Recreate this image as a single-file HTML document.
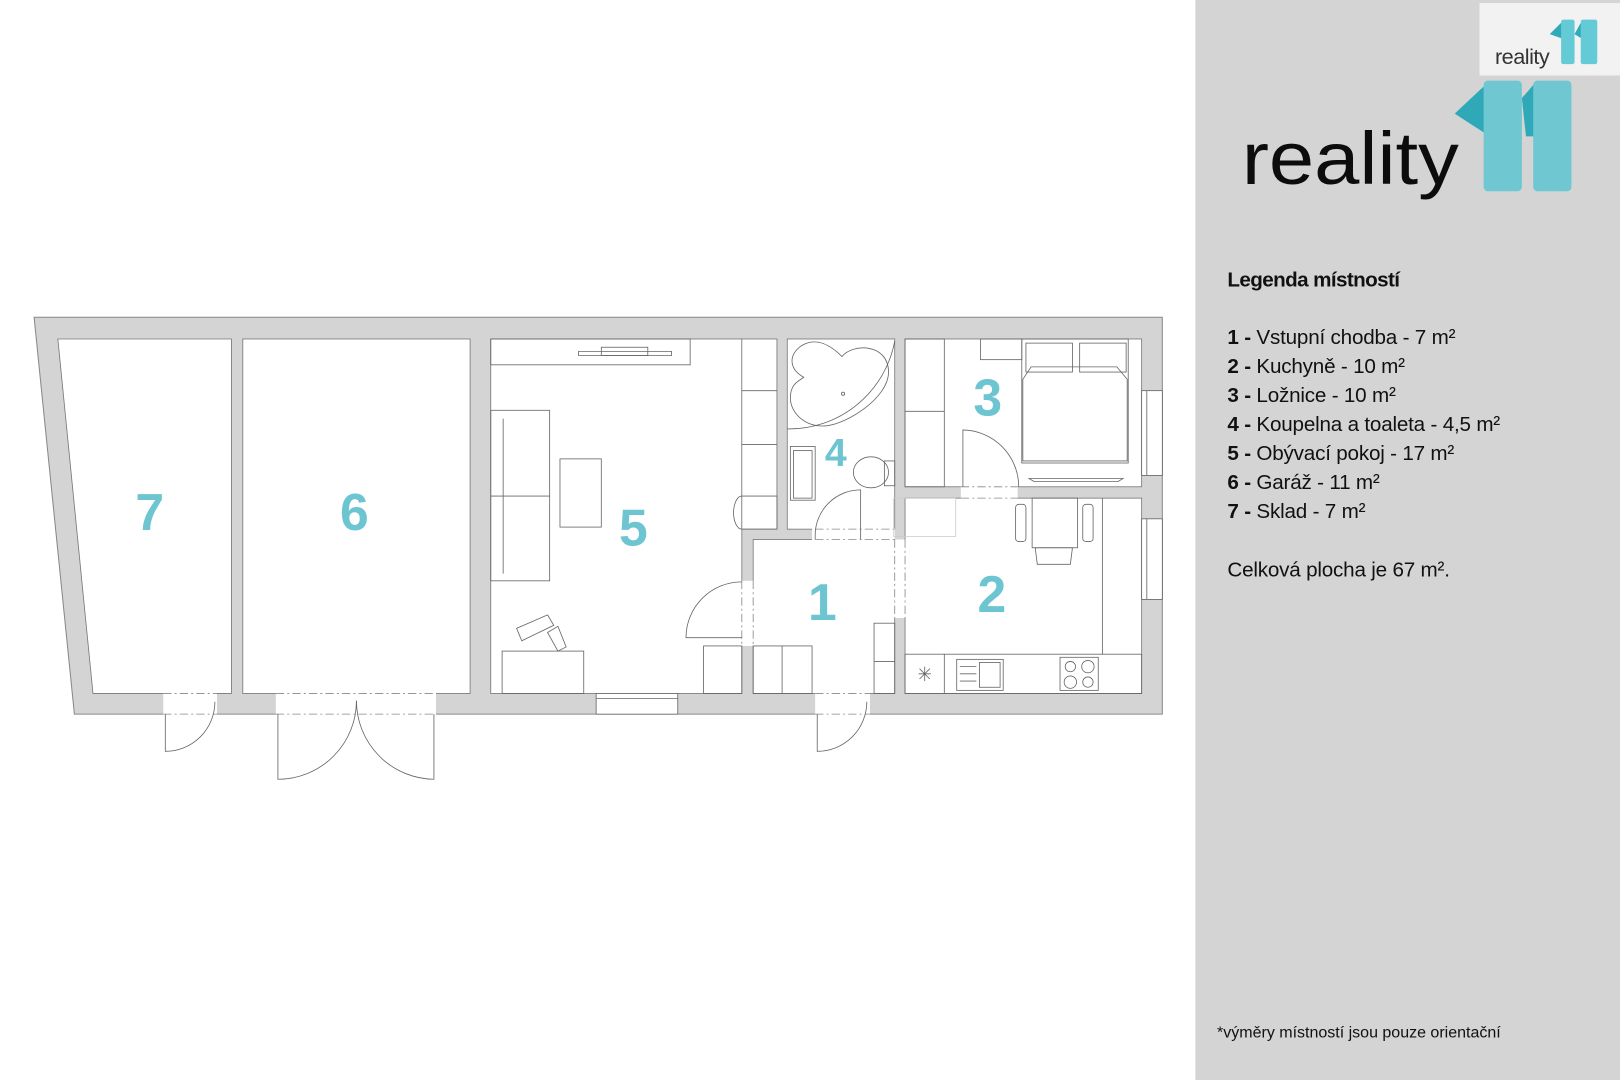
<!DOCTYPE html>
<html><head><meta charset="utf-8"><style>html,body{margin:0;padding:0;background:#fff;}svg{display:block}</style></head>
<body>
<svg width="1620" height="1080" viewBox="0 0 1568 1045" preserveAspectRatio="none" xmlns="http://www.w3.org/2000/svg" font-family="Liberation Sans, sans-serif">
<rect width="1568" height="1045" fill="#fff"/>
<!-- right panel -->
<rect x="1157" y="0" width="411" height="1045" fill="#d4d4d4"/>
<rect x="1432" y="3" width="136" height="70" fill="#f2f2f2"/>
<text x="1447" y="62" font-size="21" fill="#333" letter-spacing="-0.5">reality</text>
<path d="M1500 33 L1511 22 L1514 38 Z" fill="#30aab8"/>
<rect x="1511" y="19" width="13" height="43" rx="2" fill="#64cbd6"/>
<path d="M1524 33 L1530 22 L1532 38 Z" fill="#30aab8"/>
<rect x="1530" y="19" width="16" height="43" rx="2" fill="#64cbd6"/>
<!-- big logo -->
<text x="1202" y="178" font-size="72" fill="#0c0c0c" textLength="210" lengthAdjust="spacingAndGlyphs">reality</text>
<path d="M1408 110 L1440 80 L1448 132 L1442 132 Z" fill="#2fa9b8"/>
<rect x="1436" y="78" width="37" height="107" rx="4" fill="#6ec7d1"/>
<path d="M1473 95 L1486 80 L1486 132 L1477 132 Z" fill="#2fa9b8"/>
<rect x="1484" y="78" width="37" height="107" rx="4" fill="#6ec7d1"/>
<!-- legend -->
<g fill="#111" font-size="20" letter-spacing="-0.2">
<text x="1188" y="277" font-weight="bold" letter-spacing="-0.6">Legenda místností</text>
<text x="1188" y="333"><tspan font-weight="bold">1 - </tspan>Vstupní chodba - 7 m²</text>
<text x="1188" y="361"><tspan font-weight="bold">2 - </tspan>Kuchyně - 10 m²</text>
<text x="1188" y="389"><tspan font-weight="bold">3 - </tspan>Ložnice - 10 m²</text>
<text x="1188" y="417"><tspan font-weight="bold">4 - </tspan>Koupelna a toaleta - 4,5 m²</text>
<text x="1188" y="445"><tspan font-weight="bold">5 - </tspan>Obývací pokoj - 17 m²</text>
<text x="1188" y="473"><tspan font-weight="bold">6 - </tspan>Garáž - 11 m²</text>
<text x="1188" y="501"><tspan font-weight="bold">7 - </tspan>Sklad - 7 m²</text>
<text x="1188" y="558">Celková plocha je 67 m².</text>
<text x="1178" y="1004" font-size="15.5" letter-spacing="0">*výměry místností jsou pouze orientační</text>
</g>
<!-- walls -->
<polygon points="33,307 1125,307 1125,691 72,691" fill="#d4d4d4" stroke="#888" stroke-width="1"/>
<g fill="#fff" stroke="#777" stroke-width="0.8">
<polygon points="56,328 224,328 224,671 90,671"/>
<rect x="235" y="328" width="220" height="343"/>
<rect x="475" y="328" width="243" height="343"/>
<rect x="718" y="328" width="34" height="184"/>
<rect x="762" y="328" width="104" height="184"/>
<rect x="729" y="522" width="137" height="149"/>
<rect x="876" y="328" width="229" height="143"/>
<rect x="876" y="482" width="229" height="189"/>
</g>
<g fill="#fff" stroke="none">
<rect x="158" y="670" width="52" height="22"/>
<rect x="267" y="670" width="155" height="22"/>
<rect x="789" y="670" width="53" height="22"/>
<rect x="717" y="562" width="13" height="63"/>
<rect x="865" y="522" width="12" height="76"/>
<rect x="930" y="470" width="55" height="13"/>
<rect x="786" y="511" width="80" height="12"/>
<rect x="577" y="671" width="79" height="20"/>
<rect x="1105" y="378" width="20" height="82"/>
<rect x="1105" y="502" width="20" height="78"/>
</g>
<g fill="none" stroke="#666" stroke-width="0.8">
<rect x="577" y="671" width="79" height="20"/><line x1="577" y1="676" x2="656" y2="676"/>
<rect x="1105" y="378" width="20" height="82"/><line x1="1110" y1="378" x2="1110" y2="460"/>
<rect x="1105" y="502" width="20" height="78"/><line x1="1110" y1="502" x2="1110" y2="580"/>
<g stroke-dasharray="8,3,2,3" stroke="#888">
<line x1="158" y1="671" x2="210" y2="671"/><line x1="158" y1="691" x2="210" y2="691"/>
<line x1="267" y1="671" x2="422" y2="671"/><line x1="267" y1="691" x2="422" y2="691"/>
<line x1="789" y1="671" x2="842" y2="671"/><line x1="789" y1="691" x2="842" y2="691"/>
<line x1="718" y1="562" x2="718" y2="625"/><line x1="729" y1="562" x2="729" y2="625"/>
<line x1="866" y1="522" x2="866" y2="598"/><line x1="876" y1="522" x2="876" y2="598"/>
<line x1="930" y1="471" x2="985" y2="471"/><line x1="930" y1="482" x2="985" y2="482"/>
<line x1="789" y1="512" x2="866" y2="512"/><line x1="789" y1="522" x2="866" y2="522"/>
</g>
<path d="M160 691 L160 727 A48 48 0 0 0 208 679"/>
<path d="M269 691 L269 754 A76 76 0 0 0 345 678"/>
<path d="M420 691 L420 754 A76 76 0 0 1 345 678"/>
<path d="M791 691 L791 727 A48 48 0 0 0 839 679"/>
<path d="M718 563 A54 54 0 0 0 664 617 L718 617"/>
<path d="M789 522 L789 518 A44 44 0 0 1 833 474 L833 522"/>
<path d="M932 471 L932 416 A55 55 0 0 1 986 471"/>
<rect x="475" y="328" width="193" height="25"/>
<path d="M560 340 L650 340 L650 344 L560 344 Z"/><rect x="582" y="336" width="45" height="8"/>
<rect x="475" y="397" width="57" height="165"/><line x1="487" y1="405" x2="487" y2="555"/><line x1="475" y1="480" x2="532" y2="480"/>
<rect x="542" y="444" width="40" height="66"/>
<rect x="486" y="630" width="79" height="41"/>
<path d="M505 620 L500 608 L530 595 L536 605 Z"/><path d="M530 612 L540 606 L548 626 L540 630 Z"/>
<rect x="681" y="625" width="37" height="46"/>
<line x1="718" y1="378" x2="752" y2="378"/><line x1="718" y1="430" x2="752" y2="430"/>
<path d="M718 480 L752 480 L752 512 L718 512 A8 16 0 0 1 718 480"/>
<path d="M775 335 C790 325 805 335 815 345 C825 332 860 332 860 360 C860 385 820 410 800 412 C780 414 765 400 765 385 C765 370 775 368 778 365 C765 358 762 345 775 335 Z"/>
<path d="M762 415 A104 104 0 0 0 866 330"/>
<circle cx="816" cy="381" r="1.5"/>
<rect x="765" y="432" width="24" height="52"/><rect x="768" y="436" width="18" height="46"/>
<ellipse cx="843" cy="457" rx="17" ry="15"/><rect x="856" y="446" width="10" height="24"/>
<rect x="729" y="625" width="57" height="46"/><line x1="757" y1="625" x2="757" y2="671"/>
<rect x="846" y="603" width="20" height="68"/><line x1="846" y1="640" x2="866" y2="640"/>
<rect x="865" y="482" width="60" height="37" stroke="#ccc"/>
<rect x="876" y="328" width="38" height="143"/><line x1="876" y1="398" x2="914" y2="398"/>
<rect x="949" y="328" width="40" height="20"/>
<rect x="989" y="328" width="103" height="120"/>
<rect x="993" y="332" width="45" height="28"/><rect x="1045" y="332" width="45" height="28"/>
<path d="M990 367 L998 355 L1081 355 L1091 367 L1091 446 L990 446 Z"/>
<path d="M996 463 L1087 463 L1082 466 L1001 466 Z"/>
<rect x="876" y="633" width="229" height="38"/><line x1="914" y1="633" x2="914" y2="671"/><line x1="1067" y1="482" x2="1067" y2="633"/>
<rect x="999" y="482" width="44" height="48"/>
<rect x="983" y="488" width="10" height="36" rx="3"/><rect x="1048" y="488" width="10" height="36" rx="3"/>
<path d="M1002 530 L1038 530 L1036 546 L1004 546 Z"/>
<rect x="926" y="638" width="45" height="30"/><rect x="948" y="641" width="20" height="24"/>
<line x1="929" y1="645" x2="945" y2="645"/><line x1="929" y1="652" x2="945" y2="652"/><line x1="929" y1="659" x2="945" y2="659"/>
<rect x="1026" y="636" width="37" height="32"/>
<circle cx="1036" cy="645" r="5"/><circle cx="1053" cy="645" r="6"/><circle cx="1036" cy="660" r="6"/><circle cx="1053" cy="660" r="5"/>
<path d="M889 652 L901 652 M895 645 L895 659 M890 647 L900 657 M900 647 L890 657"/>
</g>
<g fill="#6cc5d0" font-weight="bold" font-size="50" text-anchor="middle">
<text x="145" y="513">7</text>
<text x="343" y="513">6</text>
<text x="613" y="528">5</text>
<text x="809" y="451" font-size="38">4</text>
<text x="796" y="600">1</text>
<text x="960" y="592">2</text>
<text x="956" y="402">3</text>
</g>
</svg>
</body></html>
